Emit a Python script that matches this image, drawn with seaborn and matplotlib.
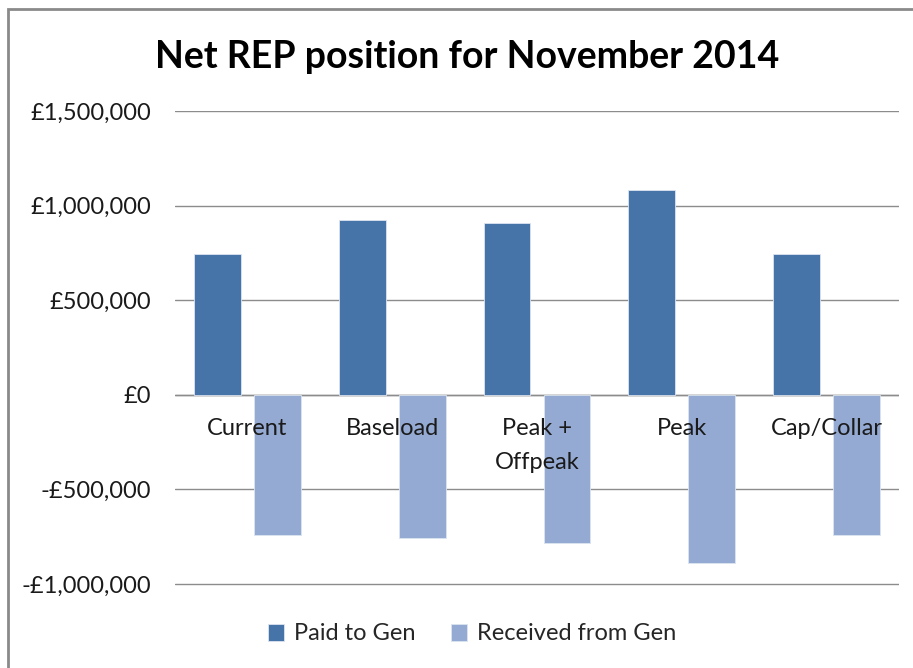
import pandas as pd
import matplotlib
matplotlib.use("Agg")
import matplotlib.pyplot as plt
from matplotlib.patches import Rectangle
from matplotlib.ticker import FuncFormatter
import seaborn as sns

# --------------------- Data ---------------------
categories = ["Current", "Baseload", "Peak +\nOffpeak", "Peak", "Cap/Collar"]
paid_to_gen = [745000, 922000, 910000, 1080000, 745000]
received_from_gen = [-742000, -757000, -785000, -887000, -742000]
series_names = ["Paid to Gen", "Received from Gen"]
series_colors = ["#4674A8", "#95AAD2"]

df = pd.DataFrame({
    "category": categories * 2,
    "value": paid_to_gen + received_from_gen,
    "series": [series_names[0]] * len(categories) + [series_names[1]] * len(categories),
})

sns.set_style("white")
plt.rcParams["font.family"] = ["Lato", "DejaVu Sans"]

fig = plt.figure(figsize=(9.13, 6.68), dpi=100)
ax = fig.add_axes([175 / 913, 1 - 586 / 668, (899 - 175) / 913, (586 - 111) / 668])

sns.barplot(data=df, x="category", y="value", hue="series", order=categories,
            hue_order=series_names, palette=series_colors, saturation=1,
            width=0.83, gap=0.22, edgecolor="#DCE4F0", linewidth=0.6, ax=ax, zorder=3)

ax.set_xlim(-0.5, len(categories) - 0.5)
ax.set_ylim(-1010000, 1500000)
ax.set_yticks([-1000000, -500000, 0, 500000, 1000000, 1500000])

def pound_fmt(v, pos):
    v = int(round(v))
    return f"-£{abs(v):,}" if v < 0 else f"£{v:,}"

ax.yaxis.set_major_formatter(FuncFormatter(pound_fmt))
ax.tick_params(axis="y", labelsize=17, colors="#1A1A1A", length=0, pad=17)
ax.set_xticks([])
ax.set_xlabel("")
ax.set_ylabel("")
ax.grid(axis="y", color="#8C8C8C", linewidth=1.0, zorder=0)
for s in ax.spines.values():
    s.set_visible(False)
ax.axhline(0, color="#8C8C8C", linewidth=1.0, zorder=2)

# category labels sit just under the zero line
for i, cat in enumerate(categories):
    ax.annotate(cat, xy=(i, 0), xytext=(0, -17), textcoords="offset points",
                ha="center", va="top", fontsize=17, color="#1A1A1A",
                linespacing=1.75, zorder=5)

handles, labels = ax.get_legend_handles_labels()
ax.get_legend().remove()
fig.legend(handles, labels, loc="center", bbox_to_anchor=(472 / 913, 1 - 634 / 668),
           ncol=2, frameon=False, fontsize=17, handlelength=0.7, handleheight=0.7,
           handletextpad=0.4, columnspacing=1.5)

fig.text(467 / 913, 1 - 57 / 668, "Net REP position for November 2014",
         ha="center", va="center", fontsize=27, fontweight="bold", color="#000000")

# chart area border (cropped at right and bottom)
fig.patches.append(Rectangle((8 / 913, -0.2), 1.2, 1.2 - 9 / 668, transform=fig.transFigure,
                             fill=False, edgecolor="#8A8A8A", linewidth=2.0))

fig.savefig("out.png", dpi=100)
